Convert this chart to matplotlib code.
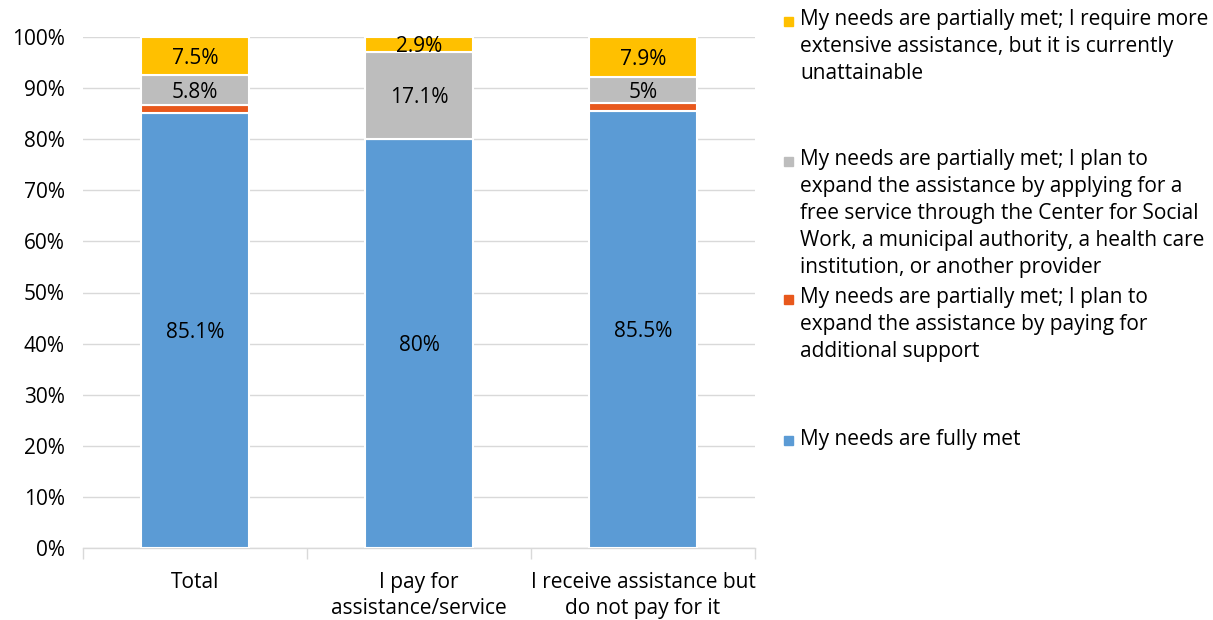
import matplotlib
matplotlib.use("Agg")
import matplotlib.pyplot as plt
from matplotlib.patches import Rectangle

plt.rcParams['font.family'] = ['Open Sans', 'DejaVu Sans']

categories = ["Total", "I pay for\nassistance/service", "I receive assistance but\ndo not pay for it"]
fully_met = [85.1, 80.0, 85.5]
paying_more = [1.6, 0.0, 1.6]
free_service = [5.8, 17.1, 5.0]
unattainable = [7.5, 2.9, 7.9]

series = [
    (fully_met, "#5B9BD5", "My needs are fully met", True),
    (paying_more, "#E8581C", "My needs are partially met; I plan to\nexpand the assistance by paying for\nadditional support", False),
    (free_service, "#BDBDBD", "My needs are partially met; I plan to\nexpand the assistance by applying for a\nfree service through the Center for Social\nWork, a municipal authority, a health care\ninstitution, or another provider", True),
    (unattainable, "#FFC000", "My needs are partially met; I require more\nextensive assistance, but it is currently\nunattainable", True),
]

FS = 15


def fmt(v):
    s = f"{v:.1f}"
    if s.endswith(".0"):
        s = s[:-2]
    return s + "%"


fig = plt.figure(figsize=(12.13, 6.2), dpi=100)
W, H = 1213, 620
ax = fig.add_axes([83 / W, 1 - 548 / H, (755 - 83) / W, (548 - 37) / H])

x = list(range(len(categories)))
bottom = [0.0] * len(categories)
for vals, color, label, show in series:
    ax.bar(x, vals, width=0.48, bottom=bottom, color=color,
           edgecolor="white", linewidth=1.5, zorder=3)
    if show:
        for i, v in enumerate(vals):
            if v > 0:
                ax.text(x[i], bottom[i] + v / 2 - 0.4, fmt(v), ha="center", va="center",
                        fontsize=FS, color="black", zorder=4)
    bottom = [b + v for b, v in zip(bottom, vals)]

ax.set_xlim(-0.5, 2.5)
ax.set_ylim(0, 100)
ax.set_yticks(range(0, 101, 10))
ax.set_yticklabels([f"{t}%" for t in range(0, 101, 10)], fontsize=FS)
ax.yaxis.grid(True, color="#D9D9D9", linewidth=1, zorder=0)
ax.tick_params(axis="y", length=0, pad=13)
for side in ["left", "right", "top"]:
    ax.spines[side].set_visible(False)
ax.spines["bottom"].set_color("#D9D9D9")
ax.spines["bottom"].set_linewidth(1)

ax.set_xticks([-0.5, 0.5, 1.5, 2.5])
ax.set_xticklabels([])
ax.tick_params(axis="x", which="major", length=8, color="#D9D9D9", width=1)
ax.set_xticks(x, minor=True)
ax.set_xticklabels(categories, minor=True, fontsize=FS, linespacing=1.35)
ax.tick_params(axis="x", which="minor", length=0, pad=17)

# Legend drawn as figure text blocks with square markers
legend_items = [
    (series[3], 22),
    (series[2], 162),
    (series[1], 300),
    (series[0], 441),
]
for (vals, color, label, _), ycenter in legend_items:
    fig.text(800 / W, 1 - (ycenter - 12.5) / H, label, ha="left", va="top",
             fontsize=FS, linespacing=1.36)
    fig.add_artist(Rectangle((784 / W, 1 - (ycenter + 4) / H), 9 / W, 9 / H,
                             transform=fig.transFigure, color=color))

fig.savefig("out.png", dpi=100, facecolor="white")
